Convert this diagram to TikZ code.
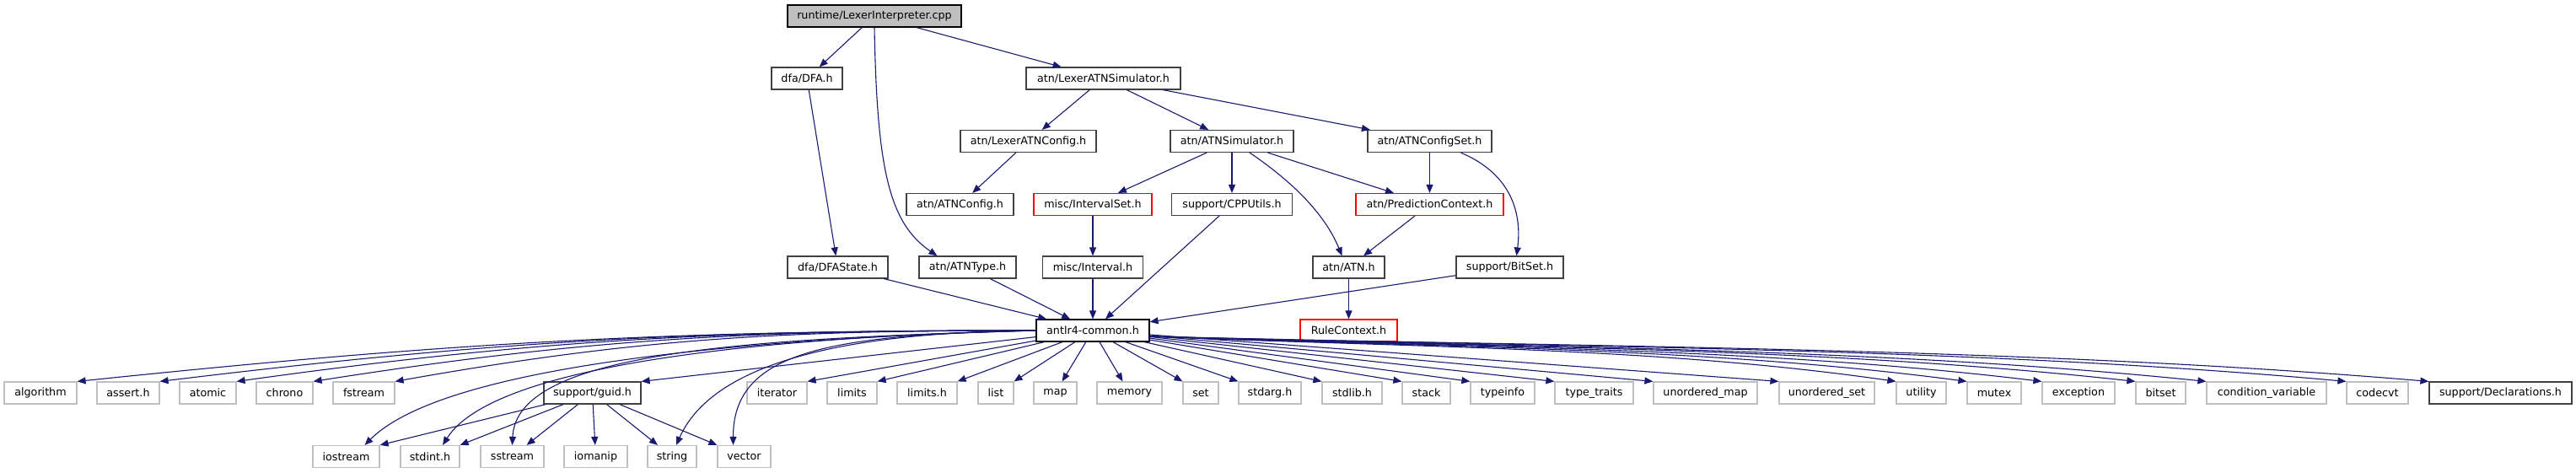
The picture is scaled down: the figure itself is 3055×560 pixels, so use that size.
\documentclass[tikz,border=0pt]{standalone}
\usepackage{fontspec}
\setmainfont{DejaVu Sans}
\usepackage{tikz}
\usetikzlibrary{arrows.meta,positioning}
\definecolor{xEdge}{RGB}{25,25,112}
\definecolor{xGray}{RGB}{191,191,191}
\definecolor{xDark}{RGB}{64,64,64}
\definecolor{xRed}{RGB}{255,0,0}
\tikzset{
  hdr/.style={draw=xDark, line width=1.2pt, minimum height=26pt, inner sep=0pt,
    font=\fontsize{12.7}{14}\selectfont},
  syshdr/.style={hdr, draw=xGray},
  missing/.style={hdr, draw=xRed},
  cur/.style={hdr, draw=black, fill=xGray},
  dep/.style={draw=xEdge, line width=1.1pt, -{Triangle[length=10pt,width=8pt]}},
}
\begin{document}
\begin{tikzpicture}[x=1pt,y=-1pt]
    \useasboundingbox (0,0) rectangle (3055,560);
    % project headers
    \node[cur, minimum width=206pt] (interp) at (1037,19) {runtime/LexerInterpreter.cpp};
    \node[hdr, minimum width=84pt] (dfa) at (957,93) {dfa/DFA.h};
    \node[hdr, minimum width=183pt] (lexsim) at (1308.5,93) {atn/LexerATNSimulator.h};
    \node[hdr, minimum width=161pt] (lexcfg) at (1219.5,167.5) {atn/LexerATNConfig.h};
    \node[hdr, minimum width=146pt] (atnsim) at (1461,167.5) {atn/ATNSimulator.h};
    \node[hdr, minimum width=147pt] (cfgset) at (1695.5,167.5) {atn/ATNConfigSet.h};
    \node[hdr, minimum width=127pt] (atncfg) at (1138.5,242.5) {atn/ATNConfig.h};
    \node[missing, minimum width=140pt] (ivset) at (1296,242.5) {misc/IntervalSet.h};
    \node[hdr, minimum width=143pt] (cpputils) at (1461,242.5) {support/CPPUtils.h};
    \node[missing, minimum width=175pt] (predctx) at (1695.5,242.5) {atn/PredictionContext.h};
    \node[hdr, minimum width=119pt] (dfastate) at (993.5,317) {dfa/DFAState.h};
    \node[hdr, minimum width=115pt] (atntype) at (1147.5,317) {atn/ATNType.h};
    \node[hdr, minimum width=119pt] (interval) at (1296,317) {misc/Interval.h};
    \node[hdr, minimum width=85pt] (atn) at (1599.5,317) {atn/ATN.h};
    \node[hdr, minimum width=127pt] (supbitset) at (1790.5,317) {support/BitSet.h};
    \node[hdr, draw=black, minimum width=134pt] (common) at (1296,392) {antlr4-common.h};
    \node[missing, minimum width=115pt] (rulectx) at (1599.5,392) {RuleContext.h};
    \node[hdr, minimum width=115pt] (guid) at (702.5,466) {support/guid.h};
    \node[hdr, minimum width=169pt] (decl) at (2965.5,466) {support/Declarations.h};

    % system headers
    \foreach \n/\t/\x/\w in {algorithm/algorithm/48/86, asserth/assert.h/152/74,
        atomic/atomic/246.5/67, chrono/chrono/337.5/67, fstream/fstream/431.5/73,
        iterator/iterator/921.5/71, limits/limits/1010.5/59, limitsh/limits.h/1099.5/71,
        list/list/1181/42, map/map/1251.5/51, memory/memory/1339.5/77, set/set/1424/42,
        stdargh/stdarg.h/1506/74, stdlibh/stdlib.h/1603.5/71, stack/stack/1691.5/57,
        typeinfo/typeinfo/1782/76, typetraits/type\_traits/1890.5/93,
        umap/unordered\_map/2022.5/123, uset/unordered\_set/2166.5/113,
        utility/utility/2278.5/59, mutex/mutex/2365/64, exception/exception/2465/86,
        bitset/bitset/2562.5/59, condvar/condition\_variable/2688/142,
        codecvt/codecvt/2819.5/73}
      \node[syshdr, minimum width=\w pt] (\n) at (\x,466) {\t};
    \foreach \n/\t/\x/\w in {iostream/iostream/410.5/79, stdinth/stdint.h/510/70,
        sstream/sstream/607.5/75, iomanip/iomanip/706.5/75, string/string/797/58,
        vector/vector/882.5/63}
      \node[syshdr, minimum width=\w pt] (\n) at (\x,541.5) {\t};

    % includes of the upper part
    \draw[dep] (interp) -- (dfa);
    \draw[dep] (interp) -- (lexsim);
    \draw[dep] (interp.south) .. controls +(3,168) and +(-57,-39) .. ([xshift=22pt]atntype.north west);
    \draw[dep] (dfa) -- (dfastate);
    \draw[dep] (lexsim) -- (lexcfg);
    \draw[dep] (lexsim) -- (atnsim);
    \draw[dep] (lexsim) -- (cfgset);
    \draw[dep] (lexcfg) -- (atncfg);
    \draw[dep] (atnsim) -- (ivset);
    \draw[dep] (atnsim) -- (cpputils);
    \draw[dep] (atnsim) -- (predctx);
    \draw[dep] ([xshift=21pt]atnsim.south) .. controls +(43,29) and +(-22,-54) .. ([xshift=-8pt]atn.north);
    \draw[dep] (cfgset) -- (predctx);
    \draw[dep] ([xshift=37pt]cfgset.south) .. controls +(57,24) and +(7,-54) .. ([xshift=8pt]supbitset.north);
    \draw[dep] (predctx) -- (atn);
    \draw[dep] (ivset) -- (interval);
    \draw[dep] (atn) -- (rulectx);
    \foreach \n in {cpputils,dfastate,atntype,interval,supbitset}
      \draw[dep] (\n) -- (common);

    % includes of antlr4-common.h
    \foreach \n/\l/\cx/\cy in {algorithm/444/442/46, asserth/406/403/49,
        atomic/370/366/51, chrono/335/331/52, fstream/297/292/52}
      \draw[dep] (common.west) .. controls +(-\l,0) and +(\cx,-\cy) .. (\n.north east);
    \draw[dep] (common.west) .. controls +(-300,8) and +(100,-100) .. ([xshift=22pt]iostream.north);
    \draw[dep] (common.west) .. controls +(-330,8) and +(60,-95) .. ([xshift=15pt]stdinth.north);
    \draw[dep] (common.west) .. controls +(-350,10) and +(5,-110) .. (sstream.north);
    \draw[dep] (common.west) .. controls +(-250,2) and +(40,-90) .. ([xshift=5pt]string.north);
    \draw[dep] (common.west) .. controls +(-250,5) and +(0,-110) .. ([xshift=-13pt]vector.north);
    \draw[dep] (common) -- (guid.north east);
    \foreach \n in {iterator,limits,limitsh,list}
      \draw[dep] (common) -- (\n.north east);
    \draw[dep] (common) -- (map);
    \draw[dep] (common) -- (memory);
    \foreach \n in {set,stdargh,stdlibh,stack,typeinfo,typetraits,umap,uset}
      \draw[dep] (common) -- (\n.north west);
    \foreach \n/\a/\b in {utility/310/284, mutex/340/310, exception/371/339,
        bitset/410/374, condvar/439/401, codecvt/497/454, decl/531/486}
      \draw[dep] ([yshift=-7pt]common.east) .. controls +(\a,13) and +(-\b,-41) .. (\n.north west);

    % includes of support/guid.h
    \draw[dep] (guid) -- (iostream.north east);
    \draw[dep] (guid) -- (stdinth.north east);
    \draw[dep] (guid) -- (sstream);
    \draw[dep] (guid) -- (iomanip);
    \draw[dep] (guid) -- (string);
    \draw[dep] (guid) -- (vector.north west);
\end{tikzpicture}
\end{document}
